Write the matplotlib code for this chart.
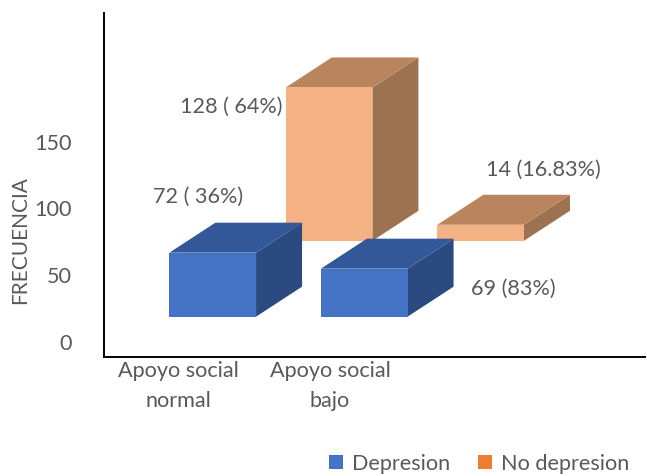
import matplotlib
matplotlib.use("Agg")
import matplotlib.pyplot as plt
from matplotlib.patches import Polygon, Patch

# ---- data ----
categories = ["Apoyo social\nnormal", "Apoyo social\nbajo"]
series_names = ["Depresion", "No depresion"]
# bar heights as drawn in the picture (axis units)
depresion_heights = [48, 36]
no_depresion_heights = [115, 12]
# data labels shown in the picture
depresion_labels = ["72 ( 36%)", "69 (83%)"]
no_depresion_labels = ["128 ( 64%)", "14 (16.83%)"]
y_ticks = [0, 50, 100, 150]

# ---- style / layout ----
W, H, DPI = 647, 476, 100
text_color = "#595959"
font = "Lato"
fs = 15.6
front_cols = ["#4472C4", "#F4B183"]
top_cols = ["#335899", "#BA845F"]
side_cols = ["#2A4A80", "#9D7251"]
legend_cols = ["#4472C4", "#ED7D31"]

bar_w = 0.572           # category units
depth_dx = 0.3036       # category units
depth_dy = 22.5         # value units
row_offset = 2.53       # depth multiples between the two rows
floor = 18.75           # base of front row in value units

fig = plt.figure(figsize=(W / DPI, H / DPI), dpi=DPI)
ax = fig.add_axes([104 / W, (H - 357) / H, (645 - 104) / W, (357 - 13.3) / H])
ax.set_xlim(-0.7175, 2.853)
ax.set_ylim(-11.5, 246.3)


def draw_box(x_center, base, height, col_i):
    x0 = x_center - bar_w / 2
    x1 = x_center + bar_w / 2
    y0, y1 = base, base + height
    dx, dy = depth_dx, depth_dy
    front = [(x0, y0), (x1, y0), (x1, y1), (x0, y1)]
    top = [(x0, y1), (x1, y1), (x1 + dx, y1 + dy), (x0 + dx, y1 + dy)]
    side = [(x1, y0), (x1 + dx, y0 + dy), (x1 + dx, y1 + dy), (x1, y1)]
    ax.add_patch(Polygon(side, closed=True, facecolor=side_cols[col_i], edgecolor="none", zorder=2))
    ax.add_patch(Polygon(top, closed=True, facecolor=top_cols[col_i], edgecolor="none", zorder=2))
    ax.add_patch(Polygon(front, closed=True, facecolor=front_cols[col_i], edgecolor="none", zorder=2))


# back row (No depresion) first, then front row (Depresion)
for i, h in enumerate(no_depresion_heights):
    draw_box(i + row_offset * depth_dx, floor + row_offset * depth_dy, h, 1)
for i, h in enumerate(depresion_heights):
    draw_box(i, floor, h, 0)

# data labels
dep_label_xy = [(-0.094, 108.5), (1.984, 39.3)]
nodep_label_xy = [(0.12, 175.8), (2.182, 128.8)]
for (x, y), s in zip(dep_label_xy, depresion_labels):
    ax.text(x, y, s, ha="center", va="center", fontsize=fs, color=text_color, family=font)
for (x, y), s in zip(nodep_label_xy, no_depresion_labels):
    ax.text(x, y, s, ha="center", va="center", fontsize=fs, color=text_color, family=font)

# axes styling
for s in ["top", "right"]:
    ax.spines[s].set_visible(False)
for s in ["left", "bottom"]:
    ax.spines[s].set_color("black")
    ax.spines[s].set_linewidth(1.4)
ax.set_yticks(y_ticks)
ax.set_yticklabels([str(t) for t in y_ticks], family=font, fontsize=fs, color=text_color)
ax.tick_params(axis="y", length=0, pad=23)
ax.set_xticks([i - 0.226 for i in range(len(categories))])
ax.set_xticklabels(categories, family=font, fontsize=fs, color=text_color, linespacing=1.6)
ax.tick_params(axis="x", length=0, pad=3)
ax.set_ylabel("FRECUENCIA", family=font, fontsize=15, color=text_color)
ax.yaxis.set_label_coords(-0.137, 0.34)

handles = [Patch(facecolor=c, edgecolor="none") for c in legend_cols]
fig.legend(handles, series_names, loc="center", bbox_to_anchor=(479 / W, 1 - 463.5 / H),
           ncol=2, frameon=False, handlelength=0.65, handleheight=0.65, handletextpad=0.4,
           columnspacing=1.3, prop={"family": font, "size": fs}, labelcolor=text_color)

fig.savefig("out.png", dpi=DPI)
